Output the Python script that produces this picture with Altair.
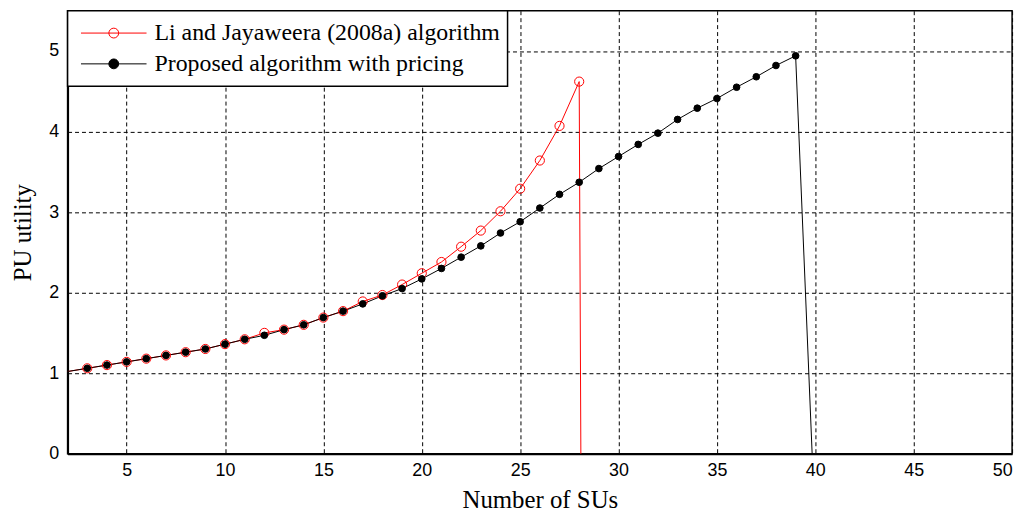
import altair as alt
import pandas as pd

LI = "Li and Jayaweera (2008a) algorithm"
PR = "Proposed algorithm with pricing"

# Number of SUs
li_x = list(range(2, 30))
li_y = [1.02, 1.06, 1.10, 1.14, 1.18, 1.22, 1.26, 1.30, 1.36, 1.42, 1.50, 1.54,
        1.60, 1.69, 1.77, 1.89, 1.97, 2.10, 2.24, 2.38, 2.57, 2.77, 3.01, 3.29,
        3.64, 4.07, 4.62, -50.0]

pr_x = list(range(2, 41))
pr_y = [1.02, 1.06, 1.10, 1.14, 1.18, 1.22, 1.26, 1.30, 1.36, 1.42, 1.47, 1.54,
        1.60, 1.69, 1.77, 1.86, 1.96, 2.05, 2.17, 2.30, 2.44, 2.58, 2.74, 2.88,
        3.05, 3.22, 3.37, 3.54, 3.69, 3.84, 3.98, 4.15, 4.29, 4.41, 4.55, 4.68,
        4.82, 4.94, -0.95]

x_ticks = [5, 10, 15, 20, 25, 30, 35, 40, 45, 50]
y_ticks = [0, 1, 2, 3, 4, 5]

df = pd.concat([
    pd.DataFrame({"n": li_x, "u": li_y, "series": LI}),
    pd.DataFrame({"n": pr_x, "u": pr_y, "series": PR}),
], ignore_index=True)

order = [LI, PR]
stroke_scale = alt.Scale(domain=order, range=["#ff0000", "#000000"])
fill_scale = alt.Scale(domain=order, range=["transparent", "#000000"])

sym_path = ("M-1,0L1,0M0.15,0A0.15,0.15,0,1,1,-0.15,0"
            "A0.15,0.15,0,1,1,0.15,0Z")

legend = alt.Legend(
    title=None, orient="top-left", offset=0, symbolType=sym_path,
    symbolSize=4356, clipHeight=31, rowPadding=0, padding=7,
    symbolOffset=6, labelOffset=7.5, labelFont="Liberation Serif",
    labelFontSize=24, labelColor="black", labelLimit=1000,
    strokeColor="black", fillColor="white", symbolStrokeWidth=1,
)

x_enc = alt.X("n:Q", scale=alt.Scale(domain=[2, 50], nice=False, zero=False),
              axis=alt.Axis(values=x_ticks, title="Number of SUs",
                            titleY=54, titleBaseline="alphabetic",
                            labelPadding=8))
y_enc = alt.Y("u:Q", scale=alt.Scale(domain=[0, 5.5], nice=False),
              axis=alt.Axis(values=y_ticks, format="d", title="PU utility",
                            titleX=-45, titleBaseline="middle",
                            titleAlign="center", labelPadding=9))

stroke_enc = alt.Stroke("series:N", scale=stroke_scale, legend=legend)
fill_enc = alt.Fill("series:N", scale=fill_scale, legend=legend)

lines = alt.Chart(df).mark_line(clip=True, strokeWidth=1).encode(
    x=x_enc, y=y_enc, stroke=stroke_enc, detail="series:N",
)

base_pts = alt.Chart(df).transform_filter(alt.datum.n >= 3)

li_pts = base_pts.transform_filter(alt.datum.series == LI).mark_point(
    clip=True, opacity=1, strokeWidth=1, size=85
).encode(x=x_enc, y=y_enc, stroke=stroke_enc, fill=fill_enc)

pr_pts = base_pts.transform_filter(alt.datum.series == PR).mark_point(
    clip=True, opacity=1, strokeWidth=1, size=45
).encode(x=x_enc, y=y_enc, stroke=stroke_enc, fill=fill_enc)

chart = alt.layer(lines, li_pts, pr_pts).properties(
    width=951, height=446,
    autosize=alt.AutoSizeParams(type="none"),
    padding={"left": 60, "top": 1, "right": 12, "bottom": 60},
).configure_view(
    stroke="black", strokeWidth=1.5
).configure_axis(
    grid=True, gridColor="black", gridDash=[4, 3], gridWidth=1, gridOpacity=1,
    ticks=False, domainColor="black", domainWidth=2,
    labelFont="Liberation Sans", labelFontSize=18, labelColor="black",
    titleFont="Liberation Serif", titleFontSize=25, titleColor="black",
    titleFontWeight="normal",
).configure_legend(
    strokeWidth=1.5
)

chart.save("out.html", embed_options={"renderer": "svg", "actions": False})
